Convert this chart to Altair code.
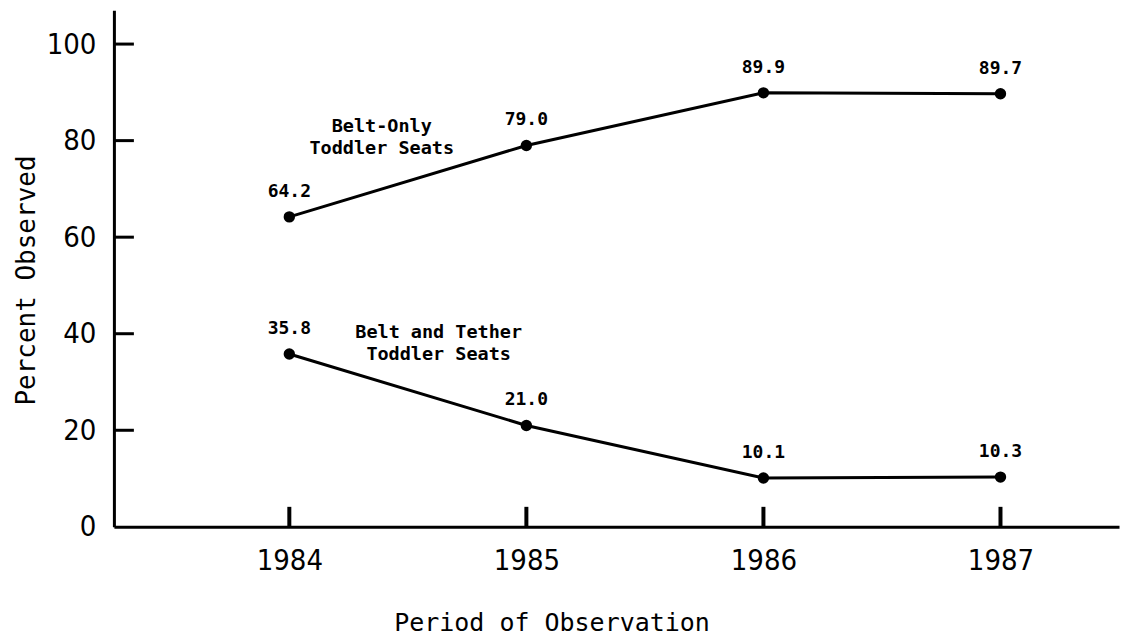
import altair as alt
import pandas as pd

# ---- data ----
years = [1984, 1985, 1986, 1987]
belt_only = [64.2, 79.0, 89.9, 89.7]
belt_tether = [35.8, 21.0, 10.1, 10.3]
series_names = ["Belt-Only Toddler Seats", "Belt and Tether Toddler Seats"]

y_tick_values = [0, 20, 40, 60, 80, 100]
x_tick_values = years

# series annotations (text, x position in years, y position in percent)
ann_text = ["Belt-Only", "Toddler Seats", "Belt and Tether", "Toddler Seats"]
ann_x = [1984.39, 1984.39, 1984.63, 1984.63]
ann_y = [83.0, 78.4, 40.3, 35.8]

W, H = 1006, 517
TICK_FONT = "'Liberation Sans Narrow', 'DejaVu Sans Condensed', 'Arial Narrow', sans-serif"
LABEL_FONT = "DejaVu Sans Mono"

rows = []
for name, vals in zip(series_names, [belt_only, belt_tether]):
    for yr, v in zip(years, vals):
        rows.append({"series": name, "year": yr, "value": v, "label": f"{v:.1f}"})
df = pd.DataFrame(rows)

ann_df = pd.DataFrame({"text": ann_text, "x": ann_x, "y": ann_y})
yt_df = pd.DataFrame({"v": y_tick_values[1:]})
xt_df = pd.DataFrame({"year": x_tick_values})

xscale = alt.Scale(domain=[1983.26, 1987.5], nice=False, zero=False)
yscale = alt.Scale(domain=[0, 107], nice=False)

xaxis = alt.Axis(values=x_tick_values, format="d", grid=False, ticks=False,
                 domainColor="black", domainWidth=3,
                 labelFont=TICK_FONT, labelFontSize=29, labelColor="black",
                 labelPadding=20, title="Period of Observation",
                 titleFont=LABEL_FONT, titleFontSize=25, titleFontWeight="normal",
                 titleColor="black", titleX=438, titleY=96, titleBaseline="middle",
                 titleAlign="center")
yaxis = alt.Axis(values=y_tick_values, grid=False, ticks=False,
                 domainColor="black", domainWidth=3,
                 labelFont=TICK_FONT, labelFontSize=29, labelColor="black",
                 labelPadding=18, title="Percent Observed",
                 titleFont=LABEL_FONT, titleFontSize=26, titleFontWeight="normal",
                 titleColor="black", titleX=-87, titleY=270, titleAngle=270,
                 titleBaseline="middle", titleAlign="center")


def X(field):
    return alt.X(field, type="quantitative", scale=xscale, axis=xaxis)


def Y(field):
    return alt.Y(field, type="quantitative", scale=yscale, axis=yaxis)


lines = alt.Chart(df).mark_line(color="black", strokeWidth=3).encode(
    x=X("year"), y=Y("value"), detail="series:N"
)
points = alt.Chart(df).mark_point(filled=True, color="black", size=130, opacity=1).encode(
    x=X("year"), y=Y("value")
)
labels = alt.Chart(df).mark_text(
    font=LABEL_FONT, fontSize=18, fontWeight="bold", color="black", dy=-25
).encode(x=X("year"), y=Y("value"), text="label:N")

ann = alt.Chart(ann_df).mark_text(
    font=LABEL_FONT, fontSize=18.5, fontWeight="bold", color="black"
).encode(x=X("x"), y=Y("y"), text="text:N")

ytick = alt.Chart(yt_df).mark_rule(color="black", strokeWidth=3).encode(
    y=Y("v"), x=alt.value(0), x2=alt.value(20)
)
xtick = alt.Chart(xt_df).mark_rule(color="black", strokeWidth=4).encode(
    x=X("year"), y=alt.value(H - 20), y2=alt.value(H)
)

chart = alt.layer(ytick, xtick, lines, points, labels, ann).properties(
    width=W, height=H,
    padding={"left": 106, "top": 2, "right": 10, "bottom": 114},
    autosize=alt.AutoSizeParams(type="none"),
    background="white",
).configure_view(strokeWidth=0, stroke="transparent")

chart.save("out.html", embed_options={"renderer": "svg", "actions": False})
